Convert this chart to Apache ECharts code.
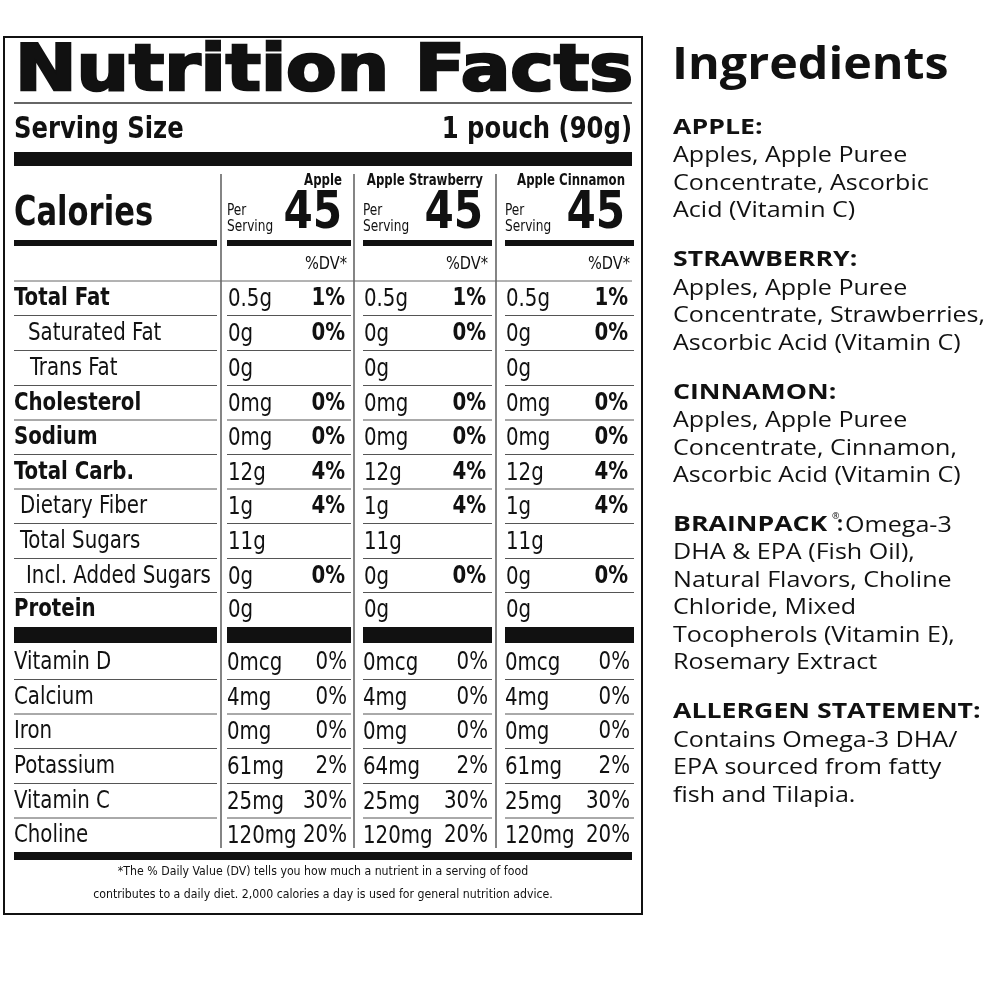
<!DOCTYPE html>
<html><head><meta charset="utf-8">
<script src="https://cdn.jsdelivr.net/npm/echarts@6/dist/echarts.min.js"></script>
<style>html,body{margin:0;background:#fff}#c{width:1000px;height:1000px}</style>
</head><body><div id="c"></div>
<script>
const flavors = ["Apple", "Apple Strawberry", "Apple Cinnamon"];
const calories = [45, 45, 45];
const nutrients = ["Total Fat","Saturated Fat","Trans Fat","Cholesterol","Sodium","Total Carb.","Dietary Fiber","Total Sugars","Incl. Added Sugars","Protein"];
const nutrientBold = [1,0,0,1,1,1,0,0,0,1];
const nutrientIndent = [0,14,16,0,0,0,6,6,12,0];
const amounts = [
  ["0.5g","0g","0g","0mg","0mg","12g","1g","11g","0g","0g"],
  ["0.5g","0g","0g","0mg","0mg","12g","1g","11g","0g","0g"],
  ["0.5g","0g","0g","0mg","0mg","12g","1g","11g","0g","0g"]];
const dvs = ["1%","0%","","0%","0%","4%","4%","","0%",""];
const vitamins = ["Vitamin D","Calcium","Iron","Potassium","Vitamin C","Choline"];
const vitAmounts = [
  ["0mcg","4mg","0mg","61mg","25mg","120mg"],
  ["0mcg","4mg","0mg","64mg","25mg","120mg"],
  ["0mcg","4mg","0mg","61mg","25mg","120mg"]];
const vitDv = ["0%","0%","0%","2%","30%","20%"];
const footnote = ["*The % Daily Value (DV) tells you how much a nutrient in a serving of food","contributes to a daily diet. 2,000 calories a day is used for general nutrition advice."];
const ingredients = [
  ["APPLE:", "Apples, Apple Puree|Concentrate, Ascorbic|Acid (Vitamin C)"],
  ["STRAWBERRY:", "Apples, Apple Puree|Concentrate, Strawberries,|Ascorbic Acid (Vitamin C)"],
  ["CINNAMON:", "Apples, Apple Puree|Concentrate, Cinnamon,|Ascorbic Acid (Vitamin C)"],
  ["BRAINPACK", "Omega-3|DHA & EPA (Fish Oil),|Natural Flavors, Choline|Chloride, Mixed|Tocopherols (Vitamin E),|Rosemary Extract"],
  ["ALLERGEN STATEMENT:", "Contains Omega-3 DHA/|EPA sourced from fatty|fish and Tilapia."]];

const N = "'Liberation Sans Narrow','DejaVu Sans Condensed',sans-serif";
const G = [];
const txt = (x,y,t,sz,opt={},sx=0.9) => G.push({type:'text',x,y,scaleX:sx,style:Object.assign({text:t,fontSize:sz,fontFamily:N,fill:'#111',textVerticalAlign:'middle',textAlign:'left'},opt)});
const rect = (x,y,w,h) => G.push({type:'rect',shape:{x,y,width:w,height:h},style:{fill:'#111'}});
const line = (x1,y1,x2,y2,w=1,c='#555') => G.push({type:'line',shape:{x1,y1,x2,y2},style:{stroke:c,lineWidth:w}});

G.push({type:'rect',shape:{x:4,y:37,width:638,height:877},style:{fill:'none',stroke:'#111',lineWidth:2}});
G.push({type:'text',x:15,y:73,scaleX:1.15,style:{text:'Nutrition Facts',fontSize:64,fontWeight:900,fontFamily:"'DejaVu Sans',sans-serif",fill:'#111',stroke:'#111',lineWidth:2.5,textVerticalAlign:'middle'}});
line(14,103,632,103,1.5,'#333');
txt(14,130,'Serving Size',30,{fontWeight:'bold'},0.9);
txt(632,130,'1 pouch (90g)',30,{fontWeight:'bold',textAlign:'right'},0.9);
rect(14,152,618,14);
txt(14,215,'Calories',40,{fontWeight:'bold'},0.85);
rect(14,240,203,6);
const cols = [[222,349],[358,490],[500,632]];
[221,354,496].forEach(x=>line(x,174,x,848,1.2,'#333'));
cols.forEach(([a,b],i)=>{
  txt(b-7,181,flavors[i],15,{fontWeight:'bold',textAlign:'right'},0.87);
  txt(a+5,211,'Per',15,{},0.9); txt(a+5,227,'Serving',15,{},0.9);
  txt(b-7,214,String(calories[i]),52,{fontWeight:'bold',textAlign:'right'},0.9);
  rect(a+5,240,b-a-3,6);
  txt(b-2,264,'%DV*',18,{textAlign:'right'},0.9);
});
const rowY = [298,333,368,403,437,472,506,541,576,609];
line(14,281,632,281,1,'#666');
nutrients.forEach((n,r)=>{
  const y=rowY[r];
  txt(14+nutrientIndent[r],y,n,25,{fontWeight:nutrientBold[r]?'bold':'normal'},0.88);
  cols.forEach(([a,b],i)=>{
    txt(a+6,y+1,amounts[i][r],25,{},0.88);
    if(dvs[r]) txt(b-4,y,dvs[r],25,{fontWeight:'bold',textAlign:'right'},0.88);
  });
  if(r<nutrients.length-1){ const ly=(y+rowY[r+1])/2; line(14,ly,217,ly); cols.forEach(([a,b])=>line(a+5,ly,b+2,ly)); }
});
rect(14,627,203,16); cols.forEach(([a,b])=>rect(a+5,627,b-a-3,16));
const vy=[662,697,731,766,801,835];
vitamins.forEach((v,r)=>{
  const y=vy[r];
  txt(14,y,v,25,{},0.88);
  cols.forEach(([a,b],i)=>{ txt(a+5,y+1,vitAmounts[i][r],25,{},0.88); txt(b-2,y,vitDv[r],25,{textAlign:'right'},0.88); });
  if(r<vitamins.length-1){ const ly=(y+vy[r+1])/2; line(14,ly,217,ly); cols.forEach(([a,b])=>line(a+5,ly,b+2,ly)); }
});
rect(14,852,618,8);
txt(323,872,footnote[0],13,{textAlign:'center'},0.94);
txt(323,895,footnote[1],13,{textAlign:'center'},0.94);

const S = "'Open Sans','DejaVu Sans',sans-serif";
const st = (x,y,t,sz,bold,sx) => G.push({type:'text',x,y,scaleX:sx,style:{text:t,fontSize:sz,fontWeight:bold?'bold':'normal',fontFamily:S,fill:'#111',textVerticalAlign:'middle'}});
st(672,66,'Ingredients',44,true,1.1);
let y=128;
ingredients.forEach(([h,body])=>{
  const lines=body.split('|');
  if(h==='BRAINPACK'){
    st(673,y,h,21,true,1.27);
    st(832,y-9,'®',9,false,1);
    st(837,y,':',21,true,1);
    st(845,y,lines[0],22,false,1.14);
    lines.slice(1).forEach((l,i)=>st(673,y+27.5*(i+1),l,22,false,1.14));
    y+=27.5*lines.length+22;
  } else {
    st(673,y,h,21,true,1.27);
    lines.forEach((l,i)=>st(673,y+28+27.5*i,l,22,false,1.14));
    y+=28+27.5*lines.length+22;
  }
});
const chart=echarts.init(document.getElementById('c'));
chart.setOption({backgroundColor:'#fff',animation:false,graphic:G});
</script></body></html>
